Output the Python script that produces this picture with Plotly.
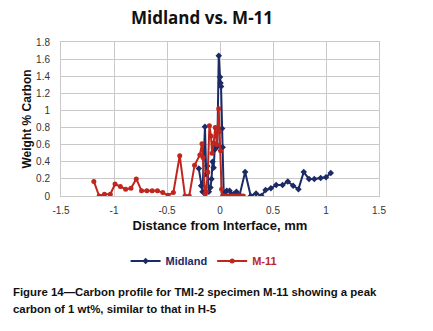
import plotly.graph_objects as go

mid_x = [-0.2, -0.178, -0.165, -0.142, -0.13, -0.12, -0.105, -0.09, -0.08, -0.07, -0.06, -0.05,
         -0.04, -0.025, -0.012, 0.0, 0.005, 0.01, 0.02, 0.025, 0.035, 0.045, 0.064, 0.09, 0.11,
         0.13, 0.155, 0.185, 0.237, 0.29, 0.34, 0.39, 0.43, 0.48, 0.53, 0.59, 0.64, 0.69, 0.74,
         0.79, 0.84, 0.89, 0.95, 1.0, 1.045]
mid_y = [0.32, 0.12, 0.05, 0.81, 0.25, 0.35, 0.05, 0.1, 0.2, 0.4, 0.33, 0.54, 0.6, 0.58, 1.64,
         1.39, 1.32, 1.28, 0.79, 0.57, 0.04, 0.02, 0.06, 0.06, 0.02, 0.02, 0.05, 0.01, 0.28, 0.0,
         0.03, 0.0, 0.07, 0.09, 0.13, 0.13, 0.17, 0.12, 0.08, 0.28, 0.2, 0.2, 0.21, 0.22, 0.27]

red_x = [-1.19, -1.14, -1.09, -1.035, -0.99, -0.94, -0.89, -0.84, -0.79, -0.74, -0.69, -0.64,
         -0.59, -0.54, -0.49, -0.44, -0.38, -0.33, -0.29, -0.24, -0.19, -0.17, -0.16, -0.14,
         -0.13, -0.115, -0.1, -0.085, -0.075, -0.06, -0.045, -0.03, -0.012, -0.005, 0.005,
         0.015, 0.025, 0.04, 0.06, 0.08, 0.1, 0.12, 0.14, 0.16, 0.18, 0.2, 0.22]
red_y = [0.17, 0.0, 0.02, 0.02, 0.14, 0.11, 0.08, 0.09, 0.2, 0.06, 0.06, 0.06, 0.06, 0.04, 0.01,
         0.04, 0.47, 0.0, 0.0, 0.36, 0.48, 0.61, 0.45, 0.02, 0.05, 0.28, 0.82, 0.7, 0.5, 0.62,
         0.8, 0.6, 1.02, 0.75, 0.53, 0.08, 0.0, 0.0, 0.0, 0.0, 0.0, 0.0, 0.0, 0.0, 0.0, 0.0, 0.0]

x_ticks = [-1.5, -1, -0.5, 0, 0.5, 1, 1.5]
y_ticks = [0, 0.2, 0.4, 0.6, 0.8, 1, 1.2, 1.4, 1.6, 1.8]

NAVY = "#1c2a66"
RED = "#c0261d"
FONT = "Liberation Sans"

fig = go.Figure()
fig.add_trace(go.Scatter(
    x=mid_x, y=mid_y, mode="lines+markers",
    name="<span style='color:%s'><b>Midland</b></span>" % NAVY,
    line=dict(color=NAVY, width=2), marker=dict(color=NAVY, size=5, symbol="diamond")))
fig.add_trace(go.Scatter(
    x=red_x, y=red_y, mode="lines+markers",
    name="<span style='color:%s'><b>M-11</b></span>" % RED,
    line=dict(color=RED, width=2), marker=dict(color=RED, size=5)))

fig.update_layout(
    template="none",
    width=433, height=331,
    margin=dict(l=61, r=54, t=42, b=135, autoexpand=False),
    paper_bgcolor="white", plot_bgcolor="white",
    font=dict(family=FONT, size=10, color="#333333"),
    title=dict(text="<b>Midland vs. M-11</b>", x=0.4665, xref="container", xanchor="center",
               y=0.9456, yref="container", yanchor="middle",
               font=dict(family="Open Sans", size=17, color="#111111")),
    showlegend=True,
    legend=dict(orientation="h", x=0.45, xanchor="center", y=-0.422, yanchor="middle",
                font=dict(family=FONT, size=11), itemwidth=30, tracegroupgap=0,
                bgcolor="rgba(0,0,0,0)", borderwidth=0),
)
fig.update_xaxes(range=[-1.5, 1.5], tickvals=x_ticks, ticktext=[str(v) for v in x_ticks],
                 automargin=False,
                 showgrid=True, gridcolor="#c9c9c9", gridwidth=1, zeroline=False,
                 showline=True, linecolor="#c9c9c9", linewidth=1, mirror=True,
                 ticks="outside", ticklen=5, tickcolor="rgba(0,0,0,0)",
                 tickfont=dict(size=10, color="#333333"),
                 title=dict(text="<b>Distance from Interface, mm</b>", standoff=5,
                            font=dict(size=13, color="#111111")))
fig.update_yaxes(range=[0, 1.8], tickvals=y_ticks, ticktext=[str(v) for v in y_ticks],
                 automargin=False,
                 showgrid=True, gridcolor="#c9c9c9", gridwidth=1, zeroline=False,
                 showline=True, linecolor="#c9c9c9", linewidth=1, mirror=True,
                 ticks="outside", ticklen=8, tickcolor="rgba(0,0,0,0)",
                 tickfont=dict(size=10, color="#333333"),
                 title=dict(text="<b>Weight % Carbon</b>", standoff=1,
                            font=dict(size=12, color="#111111")))

fig.add_annotation(
    xref="paper", yref="paper", x=-0.157, y=-0.623, xanchor="left", yanchor="middle",
    align="left", showarrow=False,
    text="<b>Figure 14\u2014Carbon profile for TMI-2 specimen M-11 showing a peak</b>",
    font=dict(family=FONT, size=11.4, color="#111111"))
fig.add_annotation(
    xref="paper", yref="paper", x=-0.157, y=-0.734, xanchor="left", yanchor="middle",
    align="left", showarrow=False,
    text="<b>carbon of 1 wt%, similar to that in H-5</b>",
    font=dict(family=FONT, size=11.4, color="#111111"))

fig.write_html("out.html", config={"displayModeBar": False},
               post_script="document.body.style.margin='0';document.body.style.padding='0';")
